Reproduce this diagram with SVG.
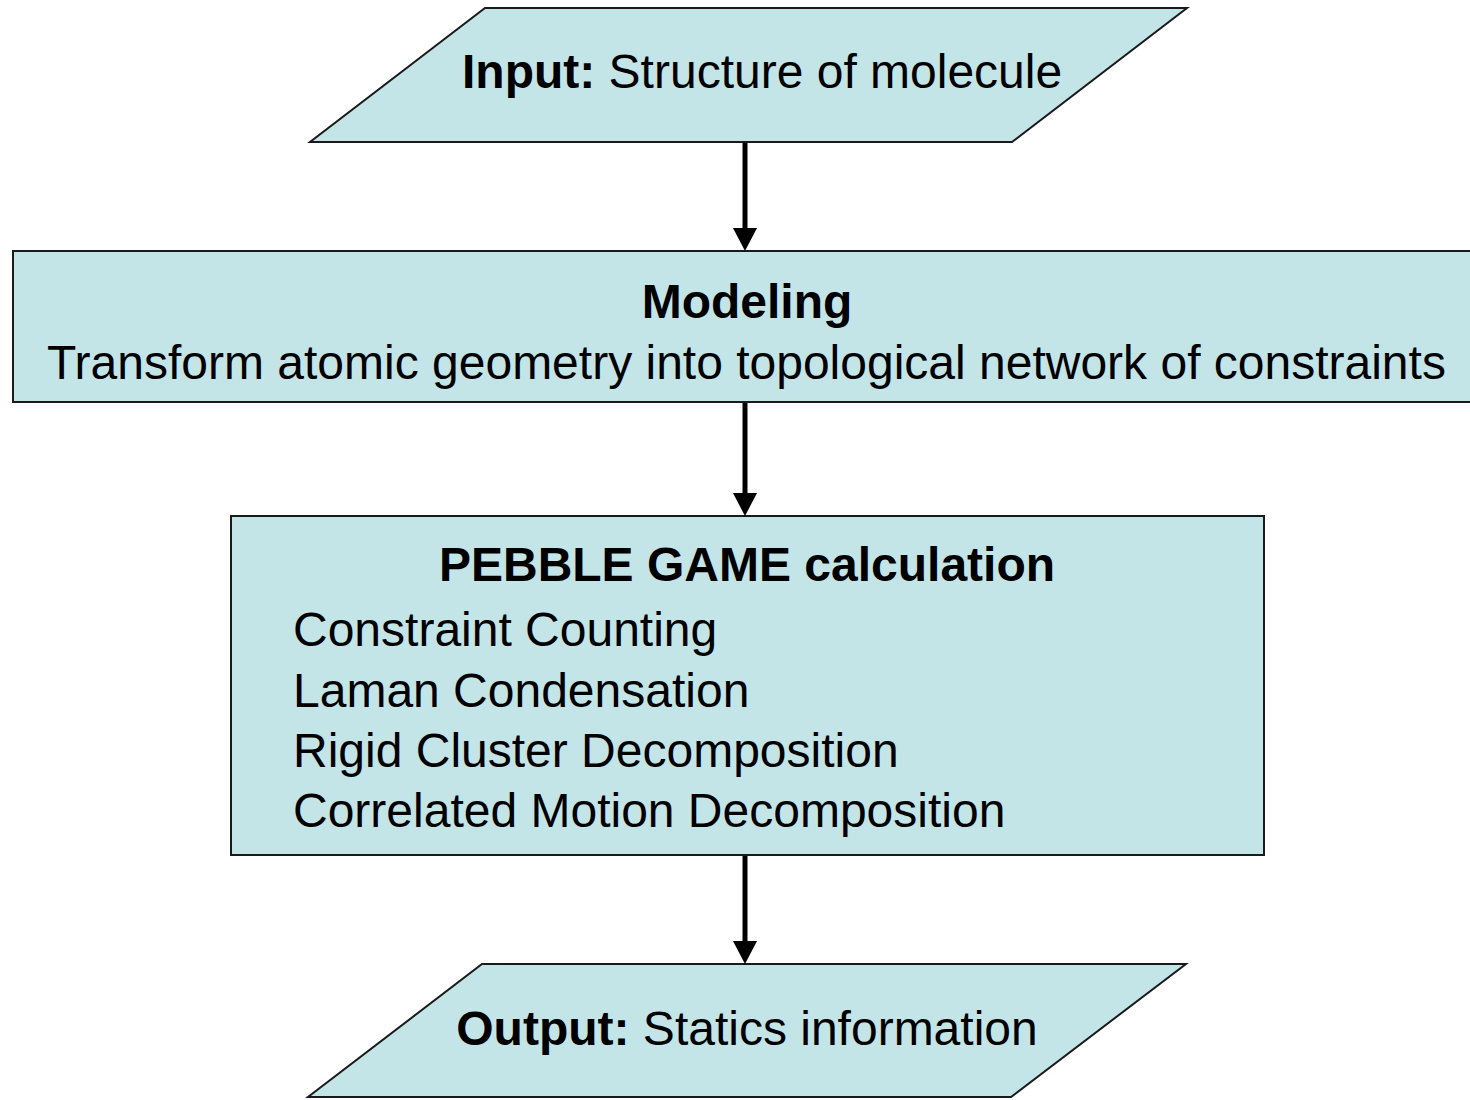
<svg xmlns="http://www.w3.org/2000/svg" width="1470" height="1100" viewBox="0 0 1470 1100">
<defs>
<style>
.shape{fill:#C4E5E8;stroke:#1a1a1a;stroke-width:2}
.t{font-family:"Liberation Sans",Arial,sans-serif;font-size:48px;fill:#000}
.b{font-weight:bold}
.c{text-anchor:middle}
.conn{stroke:#000;stroke-width:5;fill:none}
.head{fill:#000}
</style>
</defs>
<rect width="1470" height="1100" fill="#fff"/>
<g id="input">
<polygon class="shape" points="485,8 1187,8 1012,142 310,142"/>
<text class="t" x="462" y="88"><tspan class="b">Input:</tspan> Structure of molecule</text>
</g>
<g id="modeling">
<rect class="shape" x="13" y="251" width="1470" height="151"/>
<text class="t b c" x="747" y="318">Modeling</text>
<text class="t c" x="746.5" y="379">Transform atomic geometry into topological network of constraints</text>
</g>
<g id="pebble">
<rect class="shape" x="231" y="516" width="1033" height="339"/>
<text class="t b c" x="747" y="581">PEBBLE GAME calculation</text>
<text class="t" x="293" y="646">Constraint Counting</text>
<text class="t" x="293" y="707">Laman Condensation</text>
<text class="t" x="293" y="767">Rigid Cluster Decomposition</text>
<text class="t" x="293" y="827">Correlated Motion Decomposition</text>
</g>
<g id="output">
<polygon class="shape" points="482,964 1186,964 1011,1097 308,1097"/>
<text class="t c" x="747" y="1045"><tspan class="b">Output:</tspan> Statics information</text>
</g>
<g id="connectors">
<line class="conn" x1="745" y1="143" x2="745" y2="230"/>
<polygon class="head" points="733,228 757,228 745,251"/>
<line class="conn" x1="745" y1="403" x2="745" y2="495"/>
<polygon class="head" points="733,493 757,493 745,516"/>
<line class="conn" x1="745" y1="856" x2="745" y2="943"/>
<polygon class="head" points="733,941 757,941 745,964"/>
</g>
</svg>
